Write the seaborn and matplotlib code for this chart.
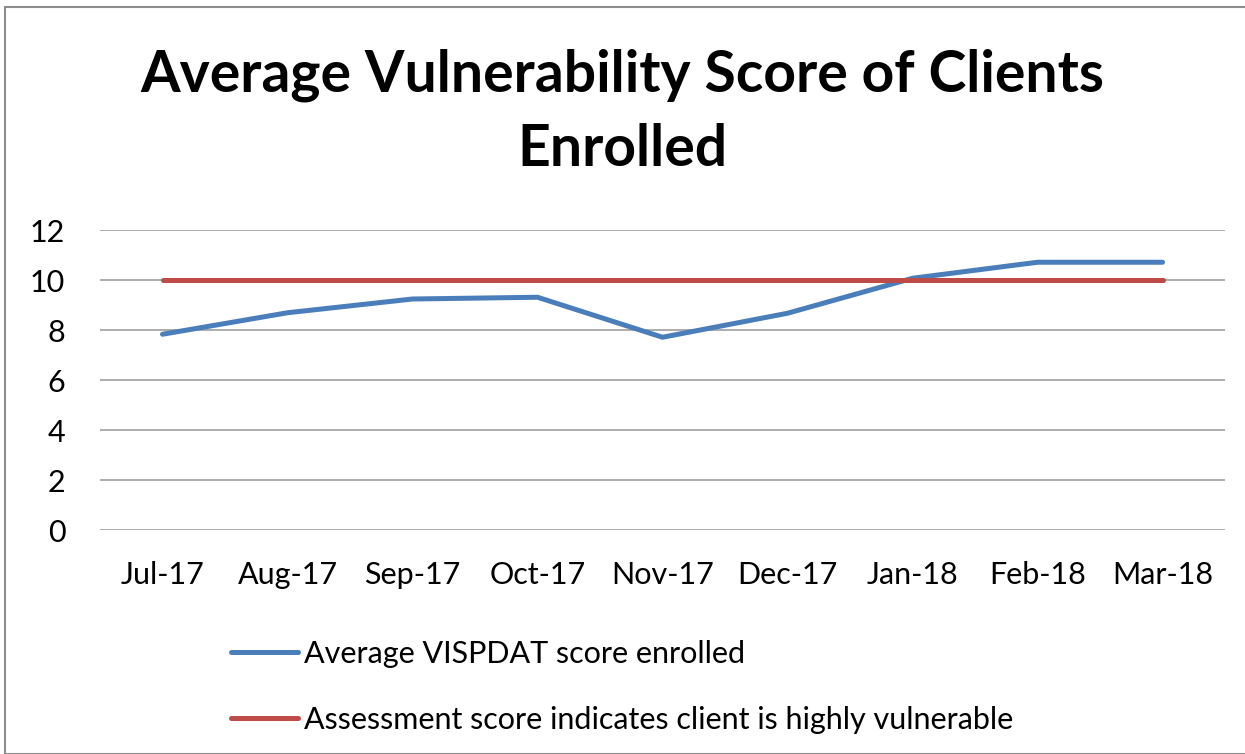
import matplotlib
matplotlib.use("Agg")
import matplotlib.pyplot as plt
import seaborn as sns
import pandas as pd
from matplotlib.patches import Rectangle

months = ["Jul-17", "Aug-17", "Sep-17", "Oct-17", "Nov-17", "Dec-17", "Jan-18", "Feb-18", "Mar-18"]
avg_vispdat = [7.83, 8.69, 9.24, 9.31, 7.71, 8.67, 10.07, 10.71, 10.71]
threshold = [10, 10, 10, 10, 10, 10, 10, 10, 10]
series_names = ["Average VISPDAT score enrolled",
                "Assessment score indicates client is highly vulnerable"]
yticks = [0, 2, 4, 6, 8, 10, 12]

sns.set_theme(style="white")
plt.rcParams['font.family'] = ['Lato', 'DejaVu Sans']
plt.rcParams['text.color'] = 'black'

df = pd.DataFrame({
    "month": months * 2,
    "value": avg_vispdat + threshold,
    "series": [series_names[0]] * len(months) + [series_names[1]] * len(months),
})

fig = plt.figure(figsize=(12.45, 7.54), dpi=100)
ax = fig.add_axes([100/1245, 1 - 530/754, 1125/1245, 300/754])

sns.lineplot(data=df, x="month", y="value", hue="series", sort=False,
             palette=["#4A7EBB", "#BE4B48"], linewidth=3.6, ax=ax,
             solid_capstyle="round", legend=True)

ax.set_xlim(-0.5, len(months) - 0.5)
ax.set_ylim(0, 12)
ax.set_yticks(yticks)
ax.set_yticklabels([str(t) for t in yticks])
ax.yaxis.grid(True, color="#A6A6A6", linewidth=1.3)
ax.xaxis.grid(False)
for s in ax.spines.values():
    s.set_visible(False)
ax.set_xlabel("")
ax.set_ylabel("")
ax.tick_params(axis="y", labelsize=22, colors="black", pad=25, length=0)
ax.tick_params(axis="x", labelsize=22, colors="black", pad=22, length=0)
ax.set_axisbelow(True)

handles, labels = ax.get_legend_handles_labels()
ax.legend(handles, labels, loc="upper left", bbox_to_anchor=(203/1245, 1 - 612/754),
          bbox_transform=fig.transFigure, frameon=False, fontsize=22,
          handlelength=2.2, handletextpad=0.2, labelspacing=1.25,
          labelcolor="black")

fig.text(0.5, 1 - 75/754, "Average Vulnerability Score of Clients", ha="center", va="center",
         fontsize=41, fontweight="bold", color="black")
fig.text(0.5, 1 - 150/754, "Enrolled", ha="center", va="center",
         fontsize=41, fontweight="bold", color="black")

fig.patches.append(Rectangle((5/1245, 0), 1.2, 1 - 7/754, transform=fig.transFigure,
                             fill=False, edgecolor="#8C8C8C", linewidth=1.5))

fig.savefig("out.png", dpi=100)
